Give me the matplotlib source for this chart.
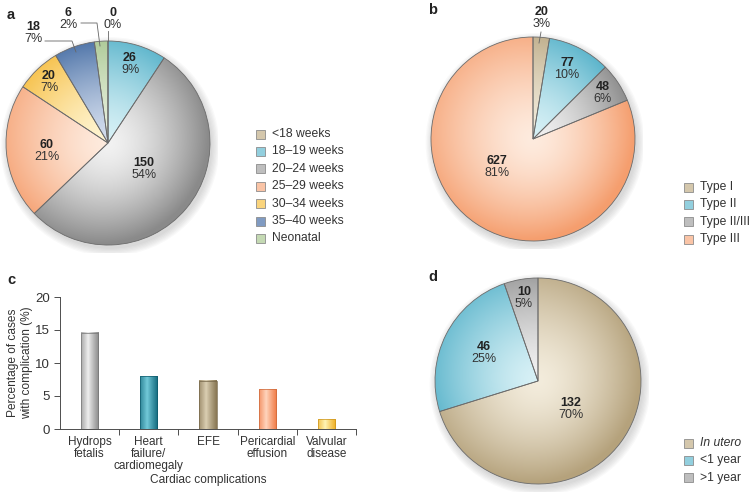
import matplotlib
matplotlib.use("Agg")
import matplotlib.pyplot as plt
from matplotlib.colors import to_rgb
from matplotlib.patches import Rectangle, Circle
from matplotlib.lines import Line2D
import numpy as np

plt.rcParams['font.family'] = ['Liberation Sans', 'DejaVu Sans']

W, H = 754, 497

# ---- data ----
a_labels = ['<18 weeks', '18\u201319 weeks', '20\u201324 weeks', '25\u201329 weeks',
            '30\u201334 weeks', '35\u201340 weeks', 'Neonatal']
a_counts = [0, 26, 150, 60, 20, 18, 6]
a_pcts = ['0%', '9%', '54%', '21%', '7%', '7%', '2%']

b_labels = ['Type I', 'Type II', 'Type II/III', 'Type III']
b_counts = [20, 77, 48, 627]
b_pcts = ['3%', '10%', '6%', '81%']

c_labels = ['Hydrops\nfetalis', 'Heart\nfailure/\ncardiomegaly', 'EFE',
            'Pericardial\neffusion', 'Valvular\ndisease']
c_values = [14.6, 8.0, 7.3, 6.0, 1.5]

d_labels = ['In utero', '<1 year', '>1 year']
d_counts = [132, 46, 10]
d_pcts = ['70%', '25%', '5%']

# colour pairs (light centre, dark rim)
TAN = ('#f3ecdc', '#b5a27c')
BLUE = ('#d8f1f6', '#4cadc6')
GRAY = ('#f2f2f2', '#8a8a8a')
ORANGE = ('#feebde', '#f59e6e')
YELLOW = ('#fff6d4', '#f4b224')
NAVY = ('#d4deee', '#2b5896')
GREEN = ('#e8f0de', '#a0c187')

a_colors = [TAN, BLUE, GRAY, ORANGE, YELLOW, NAVY, GREEN]
b_colors = [TAN, BLUE, GRAY, ORANGE]
d_colors = [TAN, BLUE, GRAY]
c_colors = [('#f0f0f0', '#8a8a8a'), ('#74cbda', '#136a7e'), ('#dcd0b4', '#877653'),
            ('#ffd6bf', '#f07a44'), ('#fff5b8', '#efae22')]

TXT = '#333333'


def fx(x):
    return x / W


def fy(y):
    return 1 - y / H


def mix(c1, c2, t):
    a = np.array(to_rgb(c1))
    b = np.array(to_rgb(c2))
    t = np.clip(t, 0, 1)[..., None]
    return a * (1 - t) + b * t


fig = plt.figure(figsize=(W / 100, H / 100), dpi=100)


def shaded_pie(cx, cy, r, counts, colors):
    pad = 8
    ax = fig.add_axes([fx(cx - r - pad), fy(cy + r + pad), 2 * (r + pad) / W, 2 * (r + pad) / H])
    wedges, _ = ax.pie(counts, startangle=90, counterclock=False, radius=1,
                       colors=[c[1] for c in colors],
                       wedgeprops=dict(edgecolor='#6b6b6b', linewidth=0.6, zorder=3))
    lim = (r + pad) / r
    ax.set_xlim(-lim, lim)
    ax.set_ylim(-lim, lim)
    ax.set_aspect('equal')
    ax.axis('off')
    # soft shadow
    for k in range(7):
        ax.add_patch(Circle((0.02, -0.035), 1 + 0.012 * k, color='#7a7a7a',
                            alpha=0.045, zorder=0, lw=0))
    n = 300
    g = np.linspace(-1, 1, n)
    X, Y = np.meshgrid(g, g)
    R = np.sqrt(X ** 2 + Y ** 2)
    T = np.clip(R ** 1.5 * 0.9 + 0.12 * (X - Y) * R, 0, 1)
    for w, (lt, dk) in zip(wedges, colors):
        img = mix(lt, dk, T)
        im = ax.imshow(img, extent=(-1, 1, -1, 1), origin='lower', zorder=2,
                       interpolation='bilinear')
        im.set_clip_path(w)
        w.set_facecolor('none')
    return ax


def pie_labels(items):
    for x, y, num, pct in items:
        fig.text(fx(x), fy(y), str(num), ha='center', va='center', fontsize=9,
                 fontweight='bold', color='#222222')
        fig.text(fx(x), fy(y + 12), pct, ha='center', va='center', fontsize=9, color=TXT)


def legend(x, y0, labels, colors, step=17.4, italic_first=False):
    for i, (lab, (lt, dk)) in enumerate(zip(labels, colors)):
        y = y0 + i * step
        fig.patches.append(Rectangle((fx(x - 4.5), fy(y + 4.5)), 9 / W, 9 / H,
                                     transform=fig.transFigure, facecolor=mix(lt, dk, np.array(0.5)),
                                     edgecolor='#8c8c8c', linewidth=0.6))
        style = 'italic' if (italic_first and i == 0) else 'normal'
        fig.text(fx(x + 12), fy(y), lab, ha='left', va='center', fontsize=8.7,
                 color=TXT, fontstyle=style)


def leader(points):
    xs = [fx(p[0]) for p in points]
    ys = [fy(p[1]) for p in points]
    fig.lines.append(Line2D(xs, ys, transform=fig.transFigure, color='#666666', lw=0.6))


# ---- panel a ----
shaded_pie(108, 143, 102, a_counts, a_colors)
pie_labels([(130, 58, a_counts[1], a_pcts[1]), (144, 163, a_counts[2], a_pcts[2]),
            (47, 145, a_counts[3], a_pcts[3]), (49, 76, a_counts[4], a_pcts[4]),
            (33, 27, a_counts[5], a_pcts[5]), (68, 13, a_counts[6], a_pcts[6]),
            (113, 13, a_counts[0], a_pcts[0])])
leader([(45, 41), (72, 41), (76, 52)])
leader([(81, 23), (97, 23), (100, 46)])
leader([(108, 31), (108, 41)])
legend(260, 134, a_labels, a_colors)
fig.text(fx(11), fy(15), 'a', fontsize=10.5, fontweight='bold', ha='center', va='center', color='#222')

# ---- panel b ----
shaded_pie(533, 139, 102, b_counts, b_colors)
pie_labels([(542, 12, b_counts[0], b_pcts[0]), (567, 63, b_counts[1], b_pcts[1]),
            (603, 87, b_counts[2], b_pcts[2]), (497, 161, b_counts[3], b_pcts[3])])
leader([(541, 32), (539, 43)])
legend(688, 187, b_labels, b_colors)
fig.text(fx(433), fy(10), 'b', fontsize=10.5, fontweight='bold', ha='center', va='center', color='#222')

# ---- panel d ----
shaded_pie(538, 381, 103, d_counts, d_colors)
pie_labels([(571, 403, d_counts[0], d_pcts[0]), (484, 347, d_counts[1], d_pcts[1]),
            (524, 292, d_counts[2], d_pcts[2])])
legend(688, 443, d_labels, d_colors, italic_first=True)
fig.text(fx(433), fy(277), 'd', fontsize=10.5, fontweight='bold', ha='center', va='center', color='#222')

# ---- panel c ----
ax = fig.add_axes([fx(60), fy(429), 296 / W, 132 / H])
x = np.arange(len(c_values))
bars = ax.bar(x, c_values, width=0.29, facecolor='none', edgecolor='none', zorder=3)
u = np.linspace(0, 1, 100)
prof = np.clip(np.abs(u - 0.4) / 0.6, 0, 1) ** 0.9
for b, (lt, dk) in zip(bars, c_colors):
    img = mix(lt, dk, prof[None, :].repeat(2, axis=0))
    x0, w, h = b.get_x(), b.get_width(), b.get_height()
    ax.imshow(img, extent=(x0, x0 + w, 0, h), aspect='auto', origin='lower',
              interpolation='bilinear', zorder=2)
    b.set_edgecolor(mix(dk, '#000000', np.array(0.15)))
    b.set_linewidth(0.5)
ax.set_xlim(-0.5, 4.5)
ax.set_ylim(0, 20)
ax.set_yticks([0, 5, 10, 15, 20])
ax.set_xticks(x)
ax.set_xticklabels(c_labels, fontsize=8.5, color=TXT, linespacing=1.0, va='top')
ax.set_xticks(np.arange(0.5, 4.6, 1), minor=True)
ax.tick_params(axis='x', which='major', length=0, pad=5)
ax.tick_params(axis='x', which='minor', length=4, width=0.7, color='#4d4d4d', direction='out')
ax.tick_params(axis='y', length=4, width=0.7, color='#4d4d4d', labelsize=9.5,
               labelcolor=TXT, pad=3)
for s in ['top', 'right']:
    ax.spines[s].set_visible(False)
for s in ['left', 'bottom']:
    ax.spines[s].set_color('#4d4d4d')
    ax.spines[s].set_linewidth(0.7)
ax.set_ylabel('Percentage of cases\nwith complication (%)', fontsize=8.6, color=TXT, va='center')
ax.yaxis.set_label_coords(-0.135, 0.5)
ax.set_xlabel('Cardiac complications', fontsize=8.6, color=TXT, va='center')
ax.xaxis.set_label_coords(0.5, -0.386)
fig.text(fx(11), fy(280), 'c', fontsize=10.5, fontweight='bold', ha='center', va='center', color='#222')

fig.savefig('out.png', dpi=100)
